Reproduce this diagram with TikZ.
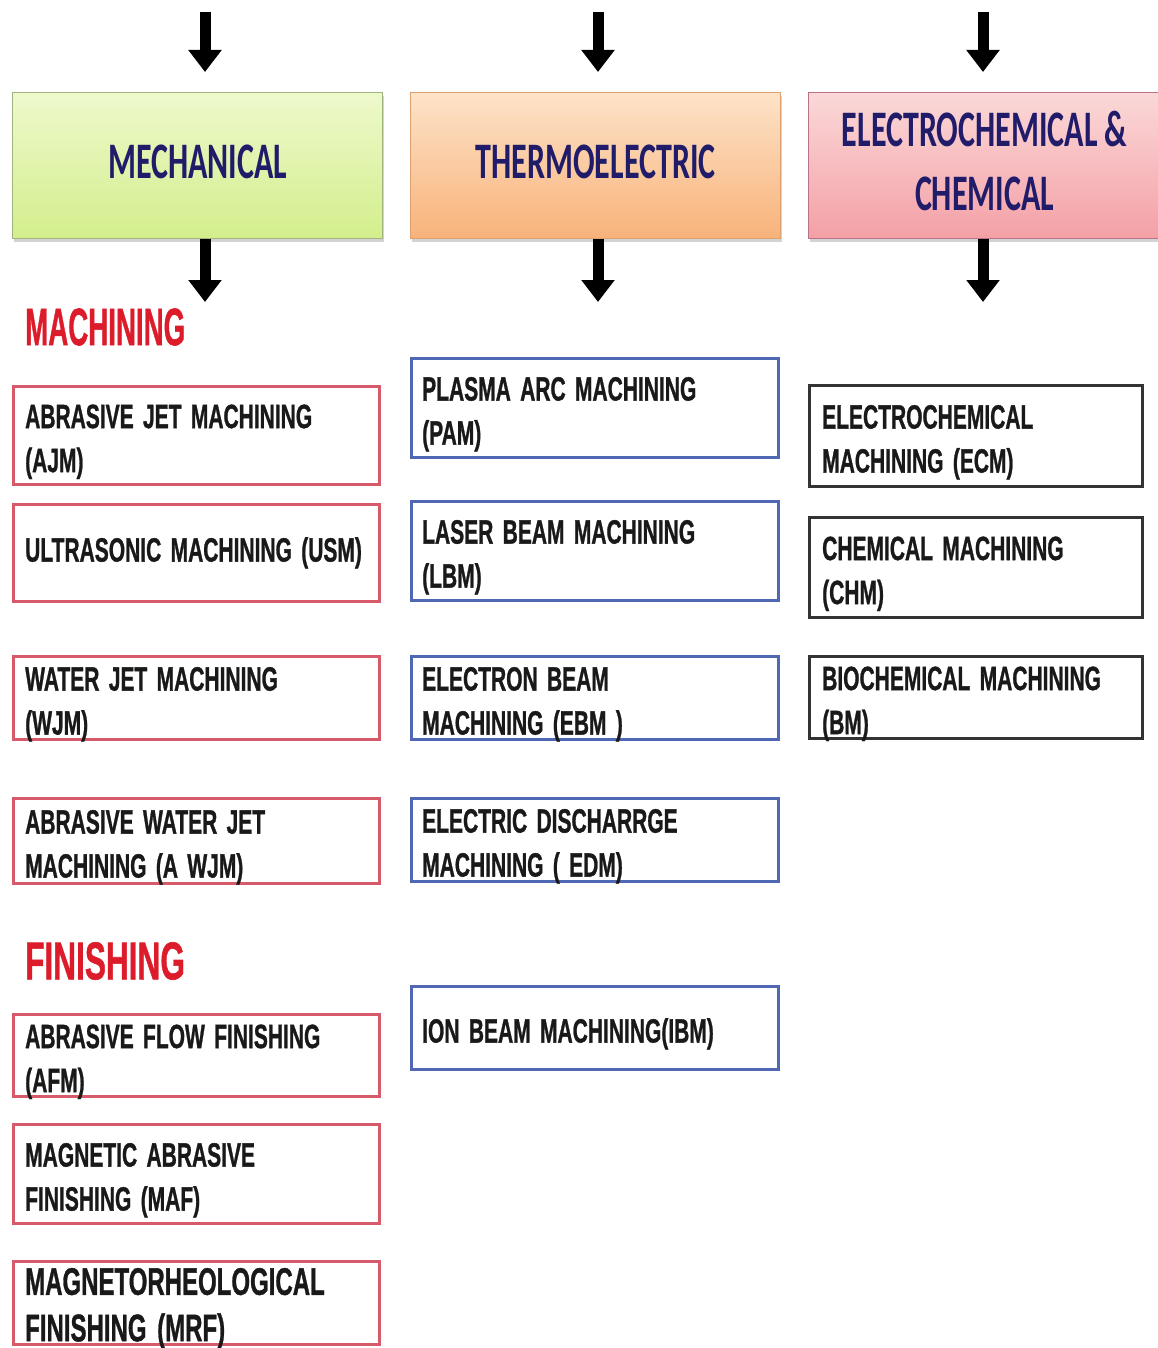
\documentclass[tikz,border=0pt]{standalone}
\usepackage{graphicx}
\usepackage{fontspec}
\setmainfont[WordSpace=1.6, BoldFeatures={FakeBold=1.2}]{Liberation Sans}
\newfontfamily\headfont{Carlito}
\usetikzlibrary{arrows.meta}
\usetikzlibrary{shadows}
\usetikzlibrary{positioning}

% colours
\definecolor{headnavy}{HTML}{201C6A}
\definecolor{titlered}{HTML}{DC1C2A}
\definecolor{mechtop}{HTML}{EEF9CC}
\definecolor{mechbot}{HTML}{D3EE8C}
\definecolor{mechline}{HTML}{A0B47E}
\definecolor{thermtop}{HTML}{FDE3C8}
\definecolor{thermbot}{HTML}{F8B27A}
\definecolor{thermline}{HTML}{DDA070}
\definecolor{chemtop}{HTML}{FBD8D8}
\definecolor{chembot}{HTML}{F3A0A6}
\definecolor{chemline}{HTML}{B87484}
\definecolor{redline}{HTML}{D65A6A}
\definecolor{blueline}{HTML}{5068B4}
\definecolor{darkline}{HTML}{333333}

% the slide squeezes all its labels sideways
\newcommand{\tallbox}[1]{\scalebox{1}[1.6]{\begin{tabular}{@{}l@{}}#1\end{tabular}}}
\newcommand{\tallhead}[1]{\scalebox{1}[1.6]{\begin{tabular}{@{}c@{}}#1\end{tabular}}}

\tikzset{
	headbox/.style={draw=#1, line width=1.2pt, anchor=north west, minimum width=370pt, minimum height=146pt, inner sep=0pt, text=headnavy, font=\headfont\bfseries\fontsize{32}{40}\selectfont, drop shadow={opacity=0.35, shadow xshift=1.5pt, shadow yshift=-3pt}},
	itembox/.style={draw=#1, line width=2.5pt, anchor=north west, inner sep=0pt, fill=white, drop shadow={opacity=0.2, shadow xshift=1pt, shadow yshift=-2pt}},
	itemtext/.style={anchor=west, inner sep=0pt, yshift=-6pt, text=black!90, font=\bfseries\fontsize{21}{27.5}\selectfont},
	titletext/.style={anchor=west, inner sep=0pt, text=titlered},
	bigarrow/.style={line width=11pt, -{Triangle[width=32pt,length=22pt]}, black}
}

\begin{document}
\begin{tikzpicture}[x=1pt, y=-1pt]

	\useasboundingbox (0,0) rectangle (1158,1348);

	% headers
	\node[headbox=mechline, top color=mechtop, bottom color=mechbot] (mech) at (12,92) {\tallhead{MECHANICAL}};
	\node[headbox=thermline, top color=thermtop, bottom color=thermbot] (therm) at (410,92) {\tallhead{THERMOELECTRIC}};
	\node[headbox=chemline, top color=chemtop, bottom color=chembot, minimum width=352pt] (chem) at (808,92) {\tallhead{ELECTROCHEMICAL \&\\CHEMICAL}};

	% arrows in and out of the headers
	\coordinate (mechin) at (205,12);
	\coordinate (thermin) at (598,12);
	\coordinate (chemin) at (983,12);
	\coordinate (mechout) at (205,302);
	\coordinate (thermout) at (598,302);
	\coordinate (chemout) at (983,302);

	\draw[bigarrow, shorten >=20pt] (mechin) -- (mechin |- mech.north);
	\draw[bigarrow, shorten >=20pt] (thermin) -- (thermin |- therm.north);
	\draw[bigarrow, shorten >=20pt] (chemin) -- (chemin |- chem.north);
	\draw[bigarrow] (mechout |- mech.south) -- (mechout);
	\draw[bigarrow] (thermout |- therm.south) -- (thermout);
	\draw[bigarrow] (chemout |- chem.south) -- (chemout);

	% red titles
	\node[titletext, font=\bfseries\fontsize{27.7}{30}\selectfont] (machining) at (25,327) {\scalebox{1}[1.9]{MACHINING}};
	\node[titletext, font=\bfseries\fontsize{31.6}{34}\selectfont] (finishing) at (25,961) {\scalebox{1}[1.68]{FINISHING}};

	% mechanical column
	\node[itembox=redline, minimum width=366pt, minimum height=98pt] (ajm) at (12,385) {};
	\node[itembox=redline, minimum width=366pt, minimum height=97pt] (usm) at (12,503) {};
	\node[itembox=redline, minimum width=366pt, minimum height=83pt] (wjm) at (12,655) {};
	\node[itembox=redline, minimum width=366pt, minimum height=85pt] (awjm) at (12,797) {};
	\node[itembox=redline, minimum width=366pt, minimum height=82pt] (afm) at (12,1013) {};
	\node[itembox=redline, minimum width=366pt, minimum height=99pt] (maf) at (12,1123) {};
	\node[itembox=redline, minimum width=366pt, minimum height=83pt] (mrf) at (12,1260) {};

	\node[itemtext, right=13pt of ajm.west] (ajm-t) {\tallbox{ABRASIVE JET MACHINING\\(AJM)}};
	\node[itemtext, yshift=6pt, right=13pt of usm.west] (usm-t) {\tallbox{ULTRASONIC MACHINING (USM)}};
	\node[itemtext, right=13pt of wjm.west] (wjm-t) {\tallbox{WATER JET MACHINING\\(WJM)}};
	\node[itemtext, right=13pt of awjm.west] (awjm-t) {\tallbox{ABRASIVE WATER JET\\MACHINING (A WJM)}};
	\node[itemtext, right=13pt of afm.west] (afm-t) {\tallbox{ABRASIVE FLOW FINISHING\\(AFM)}};
	\node[itemtext, right=13pt of maf.west] (maf-t) {\tallbox{MAGNETIC ABRASIVE\\FINISHING (MAF)}};
	\node[itemtext, font=\bfseries\fontsize{24}{29}\selectfont, right=13pt of mrf.west] (mrf-t) {\tallbox{MAGNETORHEOLOGICAL\\FINISHING (MRF)}};

	% thermoelectric column
	\node[itembox=blueline, minimum width=367pt, minimum height=99pt] (pam) at (410,357) {};
	\node[itembox=blueline, minimum width=367pt, minimum height=99pt] (lbm) at (410,500) {};
	\node[itembox=blueline, minimum width=367pt, minimum height=83pt] (ebm) at (410,655) {};
	\node[itembox=blueline, minimum width=367pt, minimum height=83pt] (edm) at (410,797) {};
	\node[itembox=blueline, minimum width=367pt, minimum height=83pt] (ibm) at (410,985) {};

	\node[itemtext, right=12pt of pam.west] (pam-t) {\tallbox{PLASMA ARC MACHINING\\(PAM)}};
	\node[itemtext, right=12pt of lbm.west] (lbm-t) {\tallbox{LASER BEAM MACHINING\\(LBM)}};
	\node[itemtext, right=12pt of ebm.west] (ebm-t) {\tallbox{ELECTRON BEAM\\MACHINING (EBM )}};
	\node[itemtext, right=12pt of edm.west] (edm-t) {\tallbox{ELECTRIC DISCHARRGE\\MACHINING ( EDM)}};
	\node[itemtext, right=12pt of ibm.west] (ibm-t) {\tallbox{ION BEAM MACHINING(IBM)}};

	% electrochemical column
	\node[itembox=darkline, minimum width=333pt, minimum height=101pt] (ecm) at (808,384) {};
	\node[itembox=darkline, minimum width=333pt, minimum height=100pt] (chm) at (808,516) {};
	\node[itembox=darkline, minimum width=333pt, minimum height=82pt] (bm) at (808,655) {};

	\node[itemtext, right=14pt of ecm.west] (ecm-t) {\tallbox{ELECTROCHEMICAL\\MACHINING (ECM)}};
	\node[itemtext, right=14pt of chm.west] (chm-t) {\tallbox{CHEMICAL MACHINING\\(CHM)}};
	\node[itemtext, right=14pt of bm.west] (bm-t) {\tallbox{BIOCHEMICAL MACHINING\\(BM)}};

\end{tikzpicture}
\end{document}
